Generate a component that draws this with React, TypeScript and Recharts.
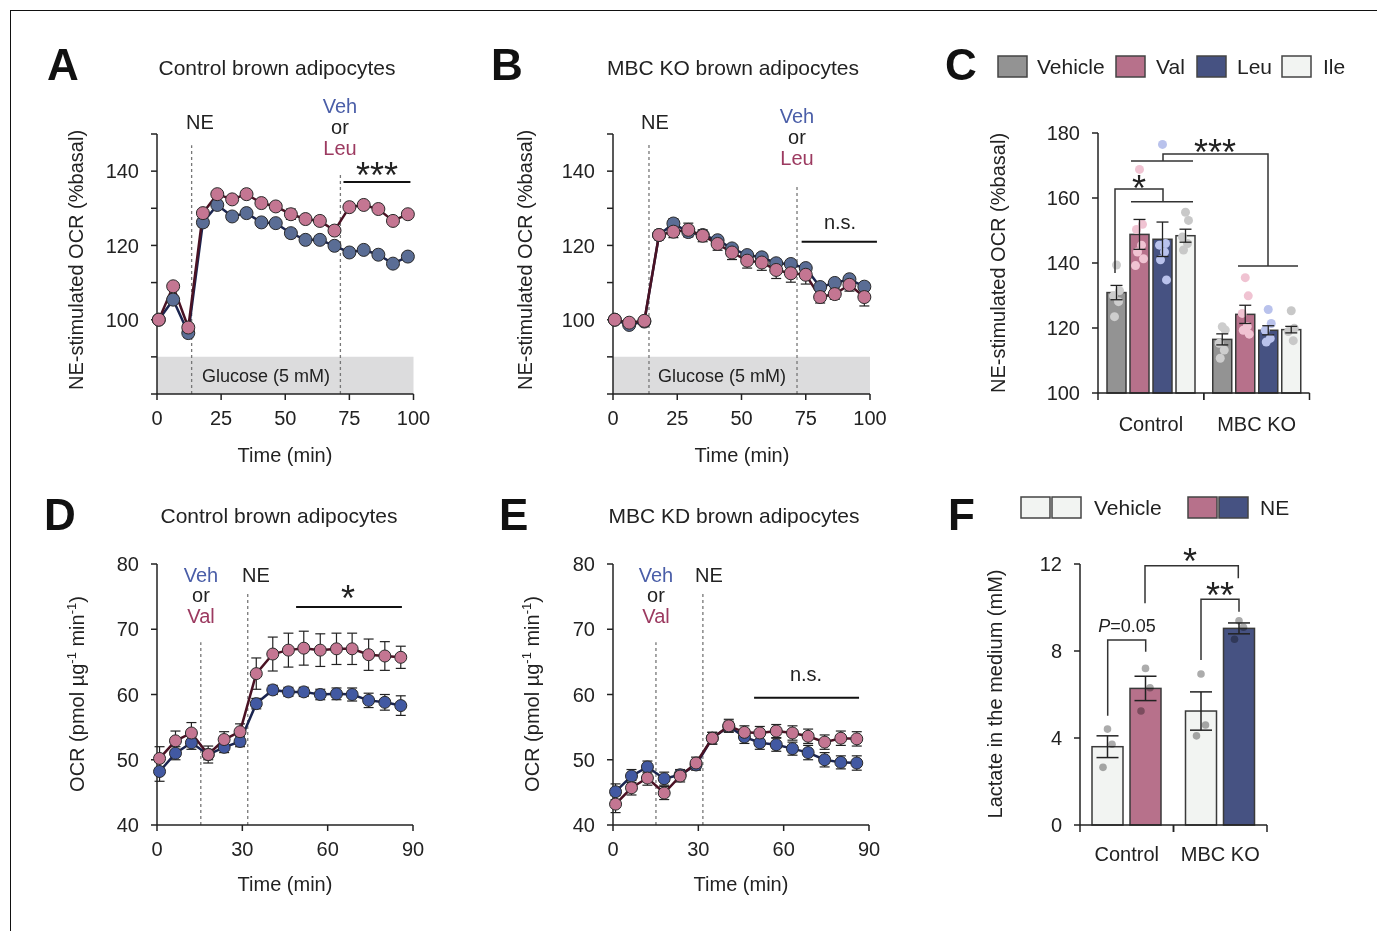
import React from 'react';
import {
  ComposedChart, Line, Bar, XAxis, YAxis, ErrorBar, ReferenceLine, ReferenceArea,
} from 'recharts';

const FONT = '"Liberation Sans", Arial, Helvetica, sans-serif';

// ---- panels A / B : NE-stimulated OCR, time course (min)
const timeAB = [0.7, 6.3, 12.2, 17.9, 23.5, 29.3, 34.9, 40.7, 46.3, 52.2, 57.9, 63.5, 69.2, 75.0, 80.6, 86.3, 92.0, 97.8];
const aVeh = [100, 105.4, 96.4, 126.2, 130.9, 127.8, 128.7, 126.2, 126.0, 123.3, 121.5, 121.5, 119.9, 118.1, 118.8, 117.5, 115.1, 117.0];
const aVehErr = [0.6, 1.0, 1.2, 1.2, 1.0, 0.9, 0.9, 0.9, 1.0, 1.2, 1.0, 1.0, 0.9, 0.9, 0.9, 0.9, 0.9, 0.9];
const aLeu = [100, 109.0, 97.9, 128.7, 133.8, 132.4, 133.8, 131.4, 130.5, 128.4, 127.1, 126.6, 124.0, 130.3, 130.9, 129.8, 126.6, 128.4];
const aLeuErr = [0.5, 0.9, 1.0, 1.0, 0.9, 0.9, 0.9, 0.9, 1.0, 1.4, 1.0, 1.2, 1.0, 0.9, 0.8, 0.9, 1.0, 0.9];
const bVeh = [100, 98.6, 99.5, 122.8, 125.9, 123.6, 122.8, 121.4, 119.2, 117.4, 116.8, 115.2, 115.0, 113.9, 108.8, 109.9, 110.9, 108.9];
const bVehErr = [0.5, 0.8, 0.6, 1.0, 1.3, 1.3, 1.0, 1.0, 1.0, 1.0, 1.1, 1.1, 1.0, 1.0, 1.0, 1.0, 1.0, 1.0];
const bLeu = [100, 99.2, 99.7, 122.8, 123.7, 124.2, 122.6, 120.4, 118.1, 115.9, 115.4, 113.4, 112.5, 112.1, 106.1, 106.9, 109.4, 106.1];
const bLeuErr = [0.5, 0.7, 0.6, 1.3, 1.6, 1.8, 1.6, 1.7, 1.9, 2.0, 2.1, 2.3, 2.4, 2.5, 1.6, 1.4, 1.7, 2.4];

// ---- panels D / E : OCR (pmol/ug/min)
const timeDE = [0.9, 6.5, 12.1, 18.0, 23.6, 29.2, 34.9, 40.7, 46.2, 51.6, 57.4, 63.1, 68.6, 74.4, 80.1, 85.7];
const dVeh = [48.2, 51.0, 52.6, 50.8, 51.9, 52.8, 58.6, 60.7, 60.4, 60.4, 60.0, 60.1, 60.0, 59.1, 58.8, 58.3];
const dVehErr = [1.5, 1.0, 1.0, 0.8, 0.8, 0.8, 0.8, 0.7, 0.7, 0.7, 0.8, 0.9, 1.0, 1.1, 1.2, 1.5];
const dVal = [50.2, 52.9, 54.1, 50.8, 53.1, 54.3, 63.2, 66.2, 66.8, 67.1, 66.8, 67.0, 67.0, 66.1, 65.9, 65.7];
const dValErr = [1.8, 1.5, 1.6, 1.3, 1.2, 1.2, 2.4, 2.6, 2.6, 2.6, 2.5, 2.4, 2.4, 2.4, 2.2, 1.7];
const eVeh = [45.1, 47.5, 48.9, 47.1, 47.7, 49.2, 53.3, 55.1, 53.5, 52.6, 52.3, 51.7, 51.1, 50.0, 49.6, 49.5];
const eVehErr = [1.2, 1.0, 0.9, 1.0, 0.8, 0.8, 0.9, 0.8, 1.0, 1.0, 1.0, 1.0, 1.1, 1.1, 1.0, 1.1];
const eVal = [43.2, 45.7, 47.2, 44.9, 47.5, 49.5, 53.3, 55.2, 54.2, 54.1, 54.4, 54.1, 53.6, 52.7, 53.3, 53.2];
const eValErr = [1.3, 1.1, 1.1, 1.0, 0.9, 0.9, 0.9, 1.0, 1.0, 1.0, 1.0, 1.1, 1.1, 1.1, 1.1, 1.1];

// ---- panel C : bars (Control, MBC KO)
const groups = ['Control', 'MBC KO'];
const cVeh = [130.9, 116.5];
const cVehErr = [2.2, 1.7];
const cVal = [148.8, 124.2];
const cValErr = [4.6, 2.8];
const cLeu = [147.3, 119.3];
const cLeuErr = [5.3, 1.4];
const cIle = [148.4, 119.5];
const cIleErr = [2.0, 1.0];
const cVehDots = [[139.4, 131.5, 129.9, 128.1, 123.5], [120.4, 119.4, 115.3, 113.2, 110.7]];
const cValDots = [[168.8, 151.9, 150.3, 145.5, 143.4, 141.3, 139.2], [135.5, 129.9, 124.5, 120.5, 119.3, 118.1]];
const cLeuDots = [[176.5, 146.0, 145.5, 143.4, 141.0, 134.8], [125.7, 121.4, 119.3, 116.8, 115.7]];
const cIleDots = [[155.6, 153.1, 148.0, 146.0, 144.0], [125.3, 119.9, 118.9, 116.1]];

// ---- panel F : lactate (mM)
const fVeh = [3.6, 5.24];
const fVehErr = [0.5, 0.88];
const fNE = [6.28, 9.04];
const fNEErr = [0.56, 0.25];
const fVehDots = [[4.41, 3.71, 2.65], [6.94, 4.6, 4.1]];
const fNEDots = [[7.2, 6.31, 5.24], [9.39, 9.09, 8.54]];

const PINK = '#c47692';
const BLUE_A = '#5a6d95';
const BLUE_D = '#4259a2';
const LINE_PINK = '#4a1224';
const LINE_BLUE = '#1b2550';
const TXT_BLUE = '#4a5ea8';
const TXT_PINK = '#9c3a60';
const BAR_GRAY = '#939393';
const BAR_PINK = '#b7718b';
const BAR_BLUE = '#465282';
const BAR_WHITE = '#f2f4f2';

const axisStyle = { stroke: '#222', strokeWidth: 1.5 };
const tickStyle = { fill: '#222', fontSize: 20, fontFamily: FONT };

const ML = 70, MT = 20, MR = 40, MB = 50;
const place = (x0: number, x1: number, y0: number, y1: number) => ({
  style: { position: 'absolute' as const, left: x0 - ML, top: y0 - MT },
  width: x1 - x0 + ML + MR,
  height: y1 - y0 + MT + MB,
});

const rows = (t: number[], veh: number[], vehErr: number[], trt: number[], trtErr: number[]) =>
  t.map((tt, i) => ({ t: tt, veh: veh[i], vehErr: vehErr[i], trt: trt[i], trtErr: trtErr[i] }));

type TimeProps = {
  box: [number, number, number, number];
  data: any[];
  xDomain: [number, number];
  xTicks: number[];
  yDomain: [number, number];
  yTicks: number[];
  yLabels: number[];
  dashed: { x: number; top: number }[];
  sig: { x0: number; x1: number; y: number };
  glucose?: boolean;
  blue: string;
  r: number;
};

function TimeChart(p: TimeProps) {
  const pl = place(...p.box);
  return (
    <div style={pl.style}>
      <ComposedChart width={pl.width} height={pl.height} data={p.data}
        margin={{ top: MT, right: MR, left: 0, bottom: 10 }}>
        {p.glucose && (
          <ReferenceArea x1={p.xDomain[0]} x2={p.xDomain[1]} y1={80} y2={90}
            fill="#dcdcdd" fillOpacity={1} stroke="none" ifOverflow="visible" />
        )}
        <XAxis type="number" dataKey="t" domain={p.xDomain} ticks={p.xTicks} interval={0}
          height={40} axisLine={axisStyle} tickLine={axisStyle} tickSize={6} tickMargin={11} tick={tickStyle} />
        <YAxis type="number" domain={p.yDomain} ticks={p.yTicks} interval={0} width={70}
          axisLine={axisStyle} tickLine={axisStyle} tickSize={6} tickMargin={12} tick={tickStyle}
          tickFormatter={(v: number) => (p.yLabels.includes(v) ? String(v) : '')} />
        {p.dashed.map((d, i) => (
          <ReferenceLine key={i} segment={[{ x: d.x, y: p.yDomain[0] }, { x: d.x, y: d.top }]}
            stroke="#777" strokeWidth={1.3} strokeDasharray="3 3" ifOverflow="visible" />
        ))}
        <ReferenceLine segment={[{ x: p.sig.x0, y: p.sig.y }, { x: p.sig.x1, y: p.sig.y }]}
          stroke="#111" strokeWidth={2} ifOverflow="visible" />
        <Line type="linear" dataKey="veh" stroke={LINE_BLUE} strokeWidth={2.5} isAnimationActive={false}
          dot={{ r: p.r, fill: p.blue, stroke: '#2a2a2a', strokeWidth: 1 }}>
          <ErrorBar dataKey="vehErr" direction="y" width={5} stroke="#222" strokeWidth={1.2} />
        </Line>
        <Line type="linear" dataKey="trt" stroke={LINE_PINK} strokeWidth={2.5} isAnimationActive={false}
          dot={{ r: p.r, fill: PINK, stroke: '#2a2a2a', strokeWidth: 1 }}>
          <ErrorBar dataKey="trtErr" direction="y" width={5} stroke="#222" strokeWidth={1.2} />
        </Line>
      </ComposedChart>
    </div>
  );
}

const jitter = [0, 3, -3, 2, -2, 4, -4];

// bar with its individual points, placed with the bar's own pixel scale
const barWithDots = (key: string, dots: number[][], base: number, fills: string[], dotFills: string[],
  blend: boolean, r: number, spread: number) => (props: any) => {
  const { x, y, width, height, index, payload } = props;
  const mean = payload[key];
  const ppu = height / (mean - base);
  const bottom = y + height;
  return (
    <g>
      <rect x={x} y={y} width={width} height={height} fill={fills[index]} stroke="#3a3a3a" strokeWidth={1.5} />
      {dots[index].map((d, j) => (
        <circle key={j} cx={x + width / 2 + jitter[j % jitter.length] * spread} cy={bottom - (d - base) * ppu}
          r={r} fill={dotFills[index]} style={blend ? { mixBlendMode: 'multiply' } : undefined} />
      ))}
    </g>
  );
};

const CatTick = (props: any) => {
  const { x, y, payload, gap, half } = props;
  const off = payload && payload.offset ? payload.offset : half;
  const ay = y - gap;
  return (
    <g>
      <line x1={x - off} x2={x - off} y1={ay} y2={ay + 7} stroke="#222" strokeWidth={1.5} />
      <line x1={x + off} x2={x + off} y1={ay} y2={ay + 7} stroke="#222" strokeWidth={1.5} />
      <text x={x} y={y} dy="0.71em" textAnchor="middle" fill="#222" fontSize={20} fontFamily={FONT}>
        {payload.value}
      </text>
    </g>
  );
};

function PanelC() {
  const box: [number, number, number, number] = [1097.5, 1309, 133, 393];
  const pl = place(...box);
  const data = groups.map((g, i) => ({
    cat: g, veh: cVeh[i], vehErr: cVehErr[i], val: cVal[i], valErr: cValErr[i],
    leu: cLeu[i], leuErr: cLeuErr[i], ile: cIle[i], ileErr: cIleErr[i],
  }));
  const half = (box[1] - box[0]) / 4;
  const eb = { direction: 'y' as const, width: 6, stroke: '#222', strokeWidth: 1.3 };
  return (
    <div style={pl.style}>
      <ComposedChart width={pl.width} height={pl.height} data={data} barGap={4} barSize={19}
        margin={{ top: MT, right: MR, left: 0, bottom: 10 }}>
        <XAxis dataKey="cat" type="category" height={40} axisLine={axisStyle} tickLine={false}
          tickSize={6} tickMargin={18} interval={0}
          tick={(t: any) => <CatTick {...t} gap={24} half={half} />} />
        <YAxis type="number" domain={[100, 180]} ticks={[100, 120, 140, 160, 180]} interval={0} width={70}
          axisLine={axisStyle} tickLine={axisStyle} tickSize={6} tickMargin={12} tick={tickStyle} />
        <Bar dataKey="veh" isAnimationActive={false}
          shape={barWithDots('veh', cVehDots, 100, [BAR_GRAY, BAR_GRAY], ['#cdcdcd', '#cdcdcd'], false, 4.5, 1)}>
          <ErrorBar dataKey="vehErr" {...eb} />
        </Bar>
        <Bar dataKey="val" isAnimationActive={false}
          shape={barWithDots('val', cValDots, 100, [BAR_PINK, BAR_PINK], ['#f0c3d2', '#f0c3d2'], false, 4.5, 1)}>
          <ErrorBar dataKey="valErr" {...eb} />
        </Bar>
        <Bar dataKey="leu" isAnimationActive={false}
          shape={barWithDots('leu', cLeuDots, 100, [BAR_BLUE, BAR_BLUE], ['#b9c2ec', '#b9c2ec'], false, 4.5, 1)}>
          <ErrorBar dataKey="leuErr" {...eb} />
        </Bar>
        <Bar dataKey="ile" isAnimationActive={false}
          shape={barWithDots('ile', cIleDots, 100, [BAR_WHITE, BAR_WHITE], ['#c8c8c8', '#c8c8c8'], false, 4.5, 1)}>
          <ErrorBar dataKey="ileErr" {...eb} />
        </Bar>
      </ComposedChart>
    </div>
  );
}

function PanelF() {
  const box: [number, number, number, number] = [1080, 1267, 564, 825];
  const pl = place(...box);
  const data = groups.map((g, i) => ({ cat: g, veh: fVeh[i], vehErr: fVehErr[i], ne: fNE[i], neErr: fNEErr[i] }));
  const half = (box[1] - box[0]) / 4;
  const eb = { direction: 'y' as const, width: 11, stroke: '#222', strokeWidth: 1.5 };
  return (
    <div style={pl.style}>
      <ComposedChart width={pl.width} height={pl.height} data={data} barGap={7} barSize={31}
        margin={{ top: MT, right: MR, left: 0, bottom: 10 }}>
        <XAxis dataKey="cat" type="category" height={40} axisLine={axisStyle} tickLine={false}
          tickSize={6} tickMargin={16} interval={0}
          tick={(t: any) => <CatTick {...t} gap={22} half={half} />} />
        <YAxis type="number" domain={[0, 12]} ticks={[0, 4, 8, 12]} interval={0} width={70}
          axisLine={axisStyle} tickLine={axisStyle} tickSize={6} tickMargin={12} tick={tickStyle} />
        <Bar dataKey="veh" isAnimationActive={false}
          shape={barWithDots('veh', fVehDots, 0, [BAR_WHITE, BAR_WHITE], ['#acacac', '#acacac'], true, 3.8, 1.5)}>
          <ErrorBar dataKey="vehErr" {...eb} />
        </Bar>
        <Bar dataKey="ne" isAnimationActive={false}
          shape={barWithDots('ne', fNEDots, 0, [BAR_PINK, BAR_BLUE], ['#acacac', '#acacac'], true, 3.8, 1.5)}>
          <ErrorBar dataKey="neErr" {...eb} />
        </Bar>
      </ComposedChart>
    </div>
  );
}

const T = ({ x, y, children, size = 20, anchor = 'middle', fill = '#222', weight, italic }: any) => (
  <text x={x} y={y} fontSize={size} textAnchor={anchor} fill={fill} fontWeight={weight}
    fontStyle={italic ? 'italic' : undefined}>{children}</text>
);

const VT = ({ x, y, children }: any) => (
  <text transform={`translate(${x},${y}) rotate(-90)`} fontSize={20} textAnchor="middle" fill="#222">{children}</text>
);

const Sq = ({ x, y, fill }: any) => (
  <rect x={x} y={y} width={29} height={21} fill={fill} stroke="#444" strokeWidth={1.5} />
);

const br = { stroke: '#333', strokeWidth: 1.5, fill: 'none' };

function Overlay() {
  return (
    <svg width={1377} height={931} style={{ position: 'absolute', left: 0, top: 0, pointerEvents: 'none' }}
      fontFamily={FONT}>
      <line x1={10} y1={10.5} x2={1377} y2={10.5} stroke="#111" strokeWidth={1} />
      <line x1={10.5} y1={10} x2={10.5} y2={931} stroke="#111" strokeWidth={1} />

      {/* panel letters */}
      <T x={47} y={80} size={44} anchor="start" weight="bold" fill="#111">A</T>
      <T x={491} y={80} size={44} anchor="start" weight="bold" fill="#111">B</T>
      <T x={945} y={80} size={44} anchor="start" weight="bold" fill="#111">C</T>
      <T x={44} y={530} size={44} anchor="start" weight="bold" fill="#111">D</T>
      <T x={499} y={530} size={44} anchor="start" weight="bold" fill="#111">E</T>
      <T x={948} y={530} size={44} anchor="start" weight="bold" fill="#111">F</T>

      {/* titles */}
      <T x={277} y={75} size={21}>Control brown adipocytes</T>
      <T x={733} y={75} size={21}>MBC KO brown adipocytes</T>
      <T x={279} y={523} size={21}>Control brown adipocytes</T>
      <T x={734} y={523} size={21}>MBC KD brown adipocytes</T>

      {/* A */}
      <T x={200} y={129}>NE</T>
      <T x={340} y={113} fill={TXT_BLUE}>Veh</T>
      <T x={340} y={134}>or</T>
      <T x={340} y={155} fill={TXT_PINK}>Leu</T>
      <T x={377} y={188} size={36}>***</T>
      <T x={266} y={382} size={18}>Glucose (5 mM)</T>
      <VT x={83} y={260}>NE-stimulated OCR (%basal)</VT>
      <T x={285} y={462}>Time (min)</T>

      {/* B */}
      <T x={655} y={129}>NE</T>
      <T x={797} y={123} fill={TXT_BLUE}>Veh</T>
      <T x={797} y={144}>or</T>
      <T x={797} y={165} fill={TXT_PINK}>Leu</T>
      <T x={840} y={229}>n.s.</T>
      <T x={722} y={382} size={18}>Glucose (5 mM)</T>
      <VT x={532} y={260}>NE-stimulated OCR (%basal)</VT>
      <T x={742} y={462}>Time (min)</T>

      {/* C */}
      <Sq x={998} y={56} fill={BAR_GRAY} />
      <T x={1037} y={74} size={21} anchor="start">Vehicle</T>
      <Sq x={1116} y={56} fill={BAR_PINK} />
      <T x={1156} y={74} size={21} anchor="start">Val</T>
      <Sq x={1197} y={56} fill={BAR_BLUE} />
      <T x={1237} y={74} size={21} anchor="start">Leu</T>
      <Sq x={1282} y={56} fill={BAR_WHITE} />
      <T x={1323} y={74} size={21} anchor="start">Ile</T>
      <VT x={1005} y={263}>NE-stimulated OCR (%basal)</VT>
      <path d="M1115,273 V189 H1163 V201.7 M1131,201.7 H1193" {...br} />
      <path d="M1131,161 H1193 M1163,161 V154 H1268 V266 M1238,266 H1298" {...br} />
      <T x={1139} y={201} size={36}>*</T>
      <T x={1215} y={165} size={36}>***</T>

      {/* D */}
      <T x={201} y={582} fill={TXT_BLUE}>Veh</T>
      <T x={201} y={602}>or</T>
      <T x={201} y={623} fill={TXT_PINK}>Val</T>
      <T x={256} y={582}>NE</T>
      <T x={348} y={611} size={36}>*</T>
      <text transform="translate(84,694) rotate(-90)" fontSize={20} textAnchor="middle" fill="#222">
        OCR (pmol µg<tspan dy={-8} fontSize={13}>-1</tspan><tspan dy={8}> min</tspan>
        <tspan dy={-8} fontSize={13}>-1</tspan><tspan dy={8}>)</tspan>
      </text>
      <T x={285} y={891}>Time (min)</T>

      {/* E */}
      <T x={656} y={582} fill={TXT_BLUE}>Veh</T>
      <T x={656} y={602}>or</T>
      <T x={656} y={623} fill={TXT_PINK}>Val</T>
      <T x={709} y={582}>NE</T>
      <T x={806} y={681}>n.s.</T>
      <text transform="translate(539,694) rotate(-90)" fontSize={20} textAnchor="middle" fill="#222">
        OCR (pmol µg<tspan dy={-8} fontSize={13}>-1</tspan><tspan dy={8}> min</tspan>
        <tspan dy={-8} fontSize={13}>-1</tspan><tspan dy={8}>)</tspan>
      </text>
      <T x={741} y={891}>Time (min)</T>

      {/* F */}
      <rect x={1021} y={497} width={29} height={21} fill={BAR_WHITE} stroke="#444" strokeWidth={1.5} />
      <rect x={1052} y={497} width={29} height={21} fill={BAR_WHITE} stroke="#444" strokeWidth={1.5} />
      <T x={1094} y={515} size={21} anchor="start">Vehicle</T>
      <rect x={1188} y={497} width={29} height={21} fill={BAR_PINK} stroke="#444" strokeWidth={1.5} />
      <rect x={1219} y={497} width={29} height={21} fill={BAR_BLUE} stroke="#444" strokeWidth={1.5} />
      <T x={1260} y={515} size={21} anchor="start">NE</T>
      <VT x={1002} y={694}>Lactate in the medium (mM)</VT>
      <path d="M1107.7,715.7 V640 H1145.7 V651.7" {...br} />
      <path d="M1201,660 V599.3 H1239 V611.7" {...br} />
      <path d="M1145,603.3 V565.7 H1238.3 V578.3" {...br} />
      <text x={1127} y={632} fontSize={18} textAnchor="middle" fill="#222">
        <tspan fontStyle="italic">P</tspan>=0.05
      </text>
      <T x={1220} y={608} size={36}>**</T>
      <T x={1190} y={574} size={36}>*</T>
    </svg>
  );
}

export default function App() {
  return (
    <div style={{ position: 'absolute', left: 0, top: 0, width: 1377, height: 931, background: '#fff', fontFamily: FONT }}>
      <TimeChart box={[156.5, 413, 133.5, 393.5]} data={rows(timeAB, aVeh, aVehErr, aLeu, aLeuErr)}
        xDomain={[0, 100]} xTicks={[0, 25, 50, 75, 100]} yDomain={[80, 150]}
        yTicks={[80, 90, 100, 110, 120, 130, 140, 150]} yLabels={[100, 120, 140]}
        dashed={[{ x: 13.5, top: 147 }, { x: 71.5, top: 139 }]} sig={{ x0: 72.7, x1: 98.8, y: 137.1 }}
        glucose blue={BLUE_A} r={6.5} />
      <TimeChart box={[613, 870, 133.5, 393.5]} data={rows(timeAB, bVeh, bVehErr, bLeu, bLeuErr)}
        xDomain={[0, 100]} xTicks={[0, 25, 50, 75, 100]} yDomain={[80, 150]}
        yTicks={[80, 90, 100, 110, 120, 130, 140, 150]} yLabels={[100, 120, 140]}
        dashed={[{ x: 14, top: 147.5 }, { x: 71.6, top: 136.3 }]} sig={{ x0: 73.4, x1: 102.7, y: 121 }}
        glucose blue={BLUE_A} r={6.5} />
      <TimeChart box={[157, 413, 564, 825]} data={rows(timeDE, dVeh, dVehErr, dVal, dValErr)}
        xDomain={[0, 90]} xTicks={[0, 30, 60, 90]} yDomain={[40, 80]}
        yTicks={[40, 50, 60, 70, 80]} yLabels={[40, 50, 60, 70, 80]}
        dashed={[{ x: 15.4, top: 68 }, { x: 31.9, top: 75.6 }]} sig={{ x0: 48.9, x1: 86.1, y: 73.4 }}
        blue={BLUE_D} r={6} />
      <TimeChart box={[613, 869, 564, 825]} data={rows(timeDE, eVeh, eVehErr, eVal, eValErr)}
        xDomain={[0, 90]} xTicks={[0, 30, 60, 90]} yDomain={[40, 80]}
        yTicks={[40, 50, 60, 70, 80]} yLabels={[40, 50, 60, 70, 80]}
        dashed={[{ x: 15.1, top: 68 }, { x: 31.6, top: 75.6 }]} sig={{ x0: 49.6, x1: 86.5, y: 59.5 }}
        blue={BLUE_D} r={6} />
      <PanelC />
      <PanelF />
      <Overlay />
    </div>
  );
}
